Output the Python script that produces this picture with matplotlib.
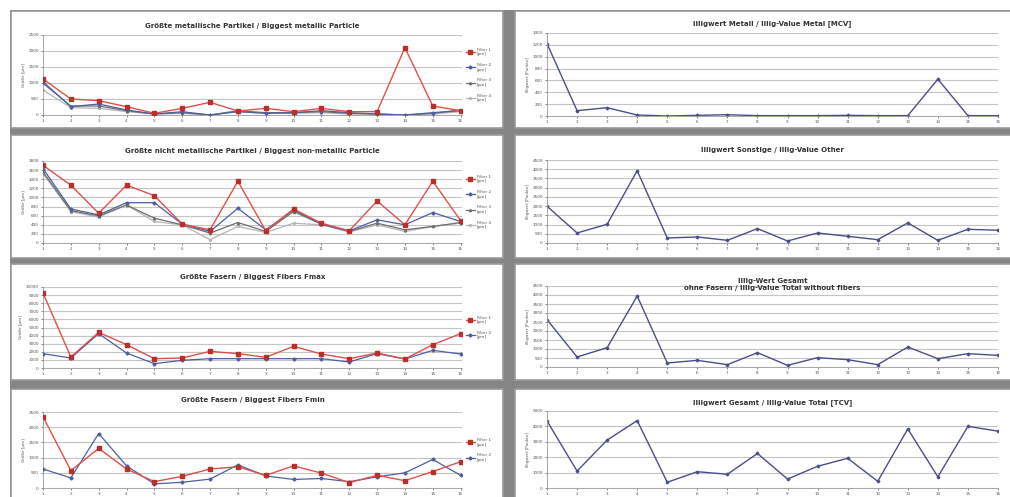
import numpy as np
import matplotlib.pyplot as plt
from matplotlib.patches import Rectangle

W, H = 1010, 497

x = list(range(1, 17))
x_labels = [str(i) for i in x]

# Groesste metallische Partikel (4 Filter)
met_1 = [1125, 500, 448, 260, 52, 208, 396, 125, 208, 104, 208, 104, 104, 2104, 281, 135]
met_2 = [1040, 260, 344, 156, 31, 104, 0, 104, 52, 73, 135, 73, 31, 0, 73, 135]
met_3 = [990, 281, 281, 135, 31, 73, 0, 135, 73, 73, 104, 52, 31, 0, 52, 156]
met_4 = [780, 229, 208, 104, 31, 52, 0, 104, 52, 52, 73, 31, 31, 0, 31, 104]

# Groesste nicht metallische Partikel
nmet_1 = [1705, 1270, 653, 1270, 1038, 414, 290, 1357, 268, 747, 435, 268, 922, 399, 1357, 493]
nmet_2 = [1633, 747, 617, 885, 885, 414, 254, 762, 290, 726, 414, 268, 508, 399, 668, 472]
nmet_3 = [1560, 711, 595, 835, 544, 399, 218, 450, 254, 690, 414, 254, 435, 290, 363, 450]
nmet_4 = [1524, 690, 566, 835, 472, 399, 73, 363, 232, 435, 399, 240, 399, 254, 363, 435]

# Groesste Fasern Fmax
fmax_1 = [9259, 1358, 4403, 2880, 1152, 1235, 2058, 1770, 1317, 2675, 1728, 1152, 1852, 1111, 2880, 4239]
fmax_2 = [1770, 1235, 4239, 1852, 535, 947, 1152, 1152, 1152, 1152, 1152, 741, 1770, 1111, 2181, 1728]

# Groesste Fasern Fmin
fmin_1 = [2344, 573, 1302, 625, 208, 385, 625, 698, 417, 729, 490, 177, 417, 240, 542, 865]
fmin_2 = [625, 333, 1792, 729, 135, 188, 292, 760, 396, 281, 313, 208, 365, 500, 938, 417]

# Illigwerte
mcv = [1221, 90, 140, 17, 0, 11, 22, 6, 6, 6, 11, 6, 6, 622, 6, 6]
other = [1996, 544, 1016, 3920, 272, 327, 145, 780, 109, 544, 363, 181, 1089, 145, 744, 690]
total_nf = [2630, 556, 1074, 3944, 222, 370, 130, 796, 93, 519, 407, 130, 1111, 463, 741, 648]
tcv = [4357, 1100, 3112, 4378, 373, 1058, 892, 2241, 581, 1411, 1929, 436, 3838, 726, 4004, 3693]

RED = '#e0504a'
RED_M = '#b8302c'
BLUE = '#4d5fa0'
GRAY = '#6f6f6f'
LGRAY = '#b5b5b5'
NAVY = '#4a4f8c'


def fr(x0, y0, x1, y1):
    return [x0 / W, 1 - y1 / H, (x1 - x0) / W, (y1 - y0) / H]


fig = plt.figure(figsize=(W / 100, H / 100), dpi=100, facecolor='white')
fig.add_artist(Rectangle((10 / W, 0), 1, 1 - 10 / H, transform=fig.transFigure,
                         facecolor='#858585', edgecolor='none', zorder=-3))

left_panels = [(11, 11, 503, 128), (11, 135, 503, 258), (11, 264, 503, 380), (11, 389, 503, 505)]
right_panels = [(515, 11, 1015, 128), (515, 135, 1015, 258), (515, 264, 1015, 380), (515, 389, 1015, 505)]
for (a, b, c, d) in left_panels + right_panels:
    fig.add_artist(Rectangle((a / W, 1 - d / H), (c - a) / W, (d - b) / H, transform=fig.transFigure,
                             facecolor='white', edgecolor='#9a9a9a', lw=1.2, zorder=-2))


def style(ax, top, step, title, ylabel, title_y):
    ax.set_xlim(1, 16.05)
    ax.set_ylim(0, top)
    ax.set_yticks(np.arange(0, top + 1, step))
    ax.set_xticks(x)
    ax.set_xticklabels(x_labels)
    ax.tick_params(labelsize=3, colors='#555555', length=1.5, width=0.5, pad=1.5)
    ax.yaxis.grid(True, color='#c4c4c4', lw=0.8)
    ax.set_axisbelow(True)
    for s in ['top', 'right']:
        ax.spines[s].set_visible(False)
    for s in ['left', 'bottom']:
        ax.spines[s].set_color('#999999')
        ax.spines[s].set_linewidth(0.6)
    ax.set_ylabel(ylabel, fontsize=3, color='#555555', labelpad=2)
    ax.set_facecolor('none')
    ax.text(0.5, title_y, title, transform=ax.transAxes, ha='center', va='bottom',
            fontsize=5, fontweight='bold', color='#333333')


def legend(ax, n):
    names = ['Filter 1\n[µm]', 'Filter 2\n[µm]', 'Filter 3\n[µm]', 'Filter 4\n[µm]'][:n]
    ax.legend(ax.get_lines(), names, loc='center left', bbox_to_anchor=(1.0, 0.5),
              fontsize=3, frameon=False, handlelength=2.2, labelspacing=1.6,
              handletextpad=0.5, labelcolor='#555555')


left_axes = [fr(43, 35, 462, 115), fr(43, 161, 462, 243), fr(43, 287, 462, 368), fr(43, 412, 462, 488)]
right_axes = [fr(547, 33, 998, 116), fr(547, 160, 998, 243), fr(547, 286, 998, 367), fr(547, 411, 998, 488)]

ylab_l = 'Größe [µm]'
ylab_r = 'Illigwert [Punkte]'

# left column
ax = fig.add_axes(left_axes[0])
ax.plot(x, met_1, color=RED, lw=1.0, marker='s', ms=2.2, mfc=RED_M, mec=RED_M, zorder=5)
ax.plot(x, met_2, color=BLUE, lw=0.9, marker='D', ms=1.6, mfc=BLUE, mec=BLUE, zorder=4)
ax.plot(x, met_3, color=GRAY, lw=0.9, marker='^', ms=1.6, mfc=GRAY, mec=GRAY, zorder=3)
ax.plot(x, met_4, color=LGRAY, lw=0.9, marker='x', ms=1.6, mec=LGRAY, zorder=2)
style(ax, 2500, 500, 'Größte metallische Partikel / Biggest metallic Particle', ylab_l, 1.08)
legend(ax, 4)

ax = fig.add_axes(left_axes[1])
ax.plot(x, nmet_1, color=RED, lw=1.0, marker='s', ms=2.2, mfc=RED_M, mec=RED_M, zorder=5)
ax.plot(x, nmet_2, color=BLUE, lw=0.9, marker='D', ms=1.6, mfc=BLUE, mec=BLUE, zorder=4)
ax.plot(x, nmet_3, color=GRAY, lw=0.9, marker='^', ms=1.6, mfc=GRAY, mec=GRAY, zorder=3)
ax.plot(x, nmet_4, color=LGRAY, lw=0.9, marker='x', ms=1.6, mec=LGRAY, zorder=2)
style(ax, 1800, 200, 'Größte nicht metallische Partikel / Biggest non-metallic Particle', ylab_l, 1.08)
legend(ax, 4)

ax = fig.add_axes(left_axes[2])
ax.plot(x, fmax_1, color=RED, lw=1.0, marker='s', ms=2.2, mfc=RED_M, mec=RED_M, zorder=5)
ax.plot(x, fmax_2, color=BLUE, lw=0.9, marker='D', ms=1.6, mfc=BLUE, mec=BLUE, zorder=4)
style(ax, 10000, 1000, 'Größte Fasern / Biggest Fibers Fmax', ylab_l, 1.09)
legend(ax, 2)

ax = fig.add_axes(left_axes[3])
ax.plot(x, fmin_1, color=RED, lw=1.0, marker='s', ms=2.2, mfc=RED_M, mec=RED_M, zorder=5)
ax.plot(x, fmin_2, color=BLUE, lw=0.9, marker='D', ms=1.6, mfc=BLUE, mec=BLUE, zorder=4)
style(ax, 2500, 500, 'Größte Fasern / Biggest Fibers Fmin', ylab_l, 1.12)
legend(ax, 2)

# right column
right = [(mcv, 1400, 200, 'Illigwert Metall / Illig-Value Metal [MCV]', 1.07),
         (other, 4500, 500, 'Illigwert Sonstige / Illig-Value Other', 1.09),
         (total_nf, 4500, 500, 'Illig-Wert Gesamt\nohne Fasern / Illig-Value Total without fibers', 0.94),
         (tcv, 5000, 1000, 'Illigwert Gesamt / Illig-Value Total [TCV]', 1.06)]
for pos, (vals, top, step, title, ty) in zip(right_axes, right):
    ax = fig.add_axes(pos)
    ax.plot(x, vals, color=NAVY, lw=1.0, marker='D', ms=1.4, mfc=NAVY, mec=NAVY)
    style(ax, top, step, title, ylab_r, ty)
    ax.set_xlim(1, 16)

fig.savefig('out.png', dpi=100, facecolor='white')
